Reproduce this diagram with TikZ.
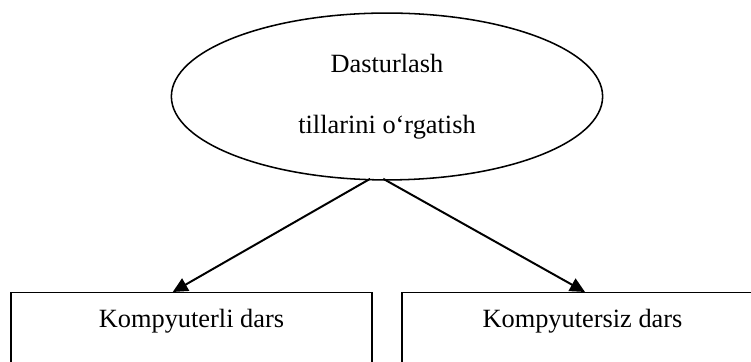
\documentclass[tikz,border=0pt]{standalone}
\usepackage{fontspec}
\setmainfont{Liberation Serif}
\usetikzlibrary{arrows.meta, shapes.geometric}
\tikzset{
  every picture/.style={font=\fontsize{12}{14.5}\selectfont},
  topic/.style={draw, ellipse, line width=0.7pt, minimum width=6.9cm, minimum height=2.67cm, align=center, inner sep=0pt},
  box/.style={draw, line width=0.6pt, minimum width=5.78cm, anchor=north, inner xsep=0pt, inner ysep=0.27cm, text depth=1.2cm},
  arrow/.style={-{Triangle[length=6.8pt, width=6.4pt]}, line width=0.9pt},
}
\begin{document}
\begin{tikzpicture}[x=1cm, y=1cm]
  \useasboundingbox (0,0) rectangle (12.016,5.792);
  \clip (0,0) rectangle (12.016,5.792);
  % main topic and the two kinds of lessons
  \node[topic] (goal) at (6.192,4.248) {Dasturlash\\[13.3pt]tillarini o‘rgatish};
  \node[box] (withpc) at (3.064,1.12) {Kompyuterli dars};
  \node[box] (nopc) at (9.32,1.12) {Kompyutersiz dars};
  \draw[arrow] ([xshift=-0.27cm, yshift=0.03cm]goal.south) -- ([xshift=-0.3cm]withpc.north);
  \draw[arrow] ([xshift=-0.06cm, yshift=0.03cm]goal.south) -- ([xshift=0.04cm]nopc.north);
\end{tikzpicture}
\end{document}
